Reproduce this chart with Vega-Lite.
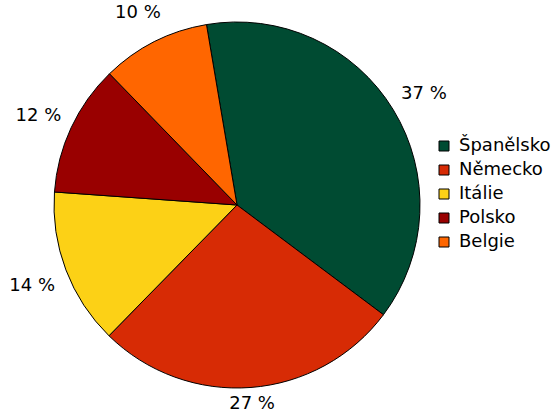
{
  "$schema": "https://vega.github.io/schema/vega-lite/v6.json",
  "width": 474,
  "height": 410,
  "autosize": {"type": "none"},
  "padding": {"left": 0, "top": 0, "right": 82, "bottom": 6},
  "background": "white",
  "config": {"view": {"stroke": null}, "font": "DejaVu Sans"},
  "data": {"values": [
    {"zeme": "Španělsko", "podil": 37.9, "label": "37 %", "order": 1},
    {"zeme": "Německo", "podil": 27.1, "label": "27 %", "order": 2},
    {"zeme": "Itálie", "podil": 13.8, "label": "14 %", "order": 3},
    {"zeme": "Polsko", "podil": 11.6, "label": "12 %", "order": 4},
    {"zeme": "Belgie", "podil": 9.6, "label": "10 %", "order": 5}
  ]},
  "encoding": {
    "theta": {"field": "podil", "type": "quantitative", "stack": true, "scale": {"range": [-0.1676, 6.1156]}},
    "order": {"field": "order", "type": "quantitative"},
    "color": {
      "field": "zeme", "type": "nominal",
      "scale": {"domain": ["Španělsko", "Německo", "Itálie", "Polsko", "Belgie"],
                "range": ["#004B32", "#D72B05", "#FCD116", "#990000", "#FF6600"]},
      "legend": {
        "title": null, "orient": "none", "legendX": 435, "legendY": 137,
        "symbolType": "square", "symbolSize": 100, "symbolStrokeColor": "black", "symbolStrokeWidth": 1,
        "symbolOpacity": 1,
        "labelFontSize": 18, "labelFont": "DejaVu Sans", "labelColor": "black", "rowPadding": 6, "labelOffset": 6
      }
    }
  },
  "layer": [
    {"mark": {"type": "arc", "outerRadius": 183, "stroke": "black", "strokeWidth": 1}},
    {"mark": {"type": "text", "radius": {"expr": "datum.zeme == 'Německo' ? 197 : 219"}, "dy": 3, "fontSize": 18, "font": "DejaVu Sans", "fill": "black"},
     "encoding": {"text": {"field": "label"}, "color": {"value": "black"}}}
  ]
}
